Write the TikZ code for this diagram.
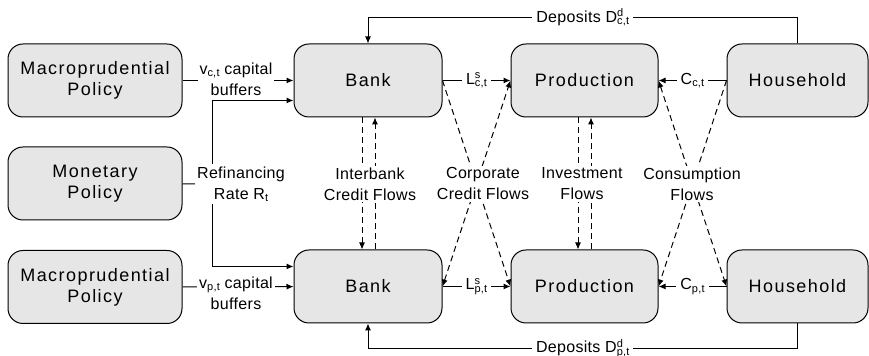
\documentclass[tikz,border=0pt]{standalone}
\usepackage{fontspec}
\setmainfont{Liberation Sans}
\newfontfamily\boxfont[LetterSpace=8]{Liberation Sans}
\newfontfamily\flowfont[LetterSpace=2]{Liberation Sans}
\usetikzlibrary{arrows.meta}
\definecolor{boxgray}{RGB}{230,230,230}
% small indices: superscript over subscript, and subscript alone
\newcommand{\flowidx}[2]{{\fontsize{5.5}{6}\selectfont\rlap{\raisebox{2.8pt}{#1}}\raisebox{-1.2pt}{#2}}}
\newcommand{\flowsub}[1]{{\fontsize{5.5}{6}\selectfont\raisebox{-1.2pt}{#1}}}

\begin{document}
\begin{tikzpicture}[x=0.5pt,y=-0.5pt,line width=0.5pt,
	agent/.style={draw,fill=boxgray,rounded corners=7.5pt,minimum height=36.5pt,
		align=center,inner sep=0pt,font=\boxfont\fontsize{9}{10.5}\selectfont},
	flowlabel/.style={fill=white,align=center,inner sep=1pt,
		font=\flowfont\fontsize{8}{10.5}\selectfont},
	arr/.style={-{Latex[length=3.5pt,width=3pt]}},
	arrboth/.style={{Latex[length=3.5pt,width=3pt]}-{Latex[length=3.5pt,width=3pt]}},
	flowline/.style={dash pattern=on 3pt off 2pt}]
	\useasboundingbox (0,0) rectangle (869,356);
	% policy
	\node[agent,minimum width=87pt] (macc) at (95,80.5) {Macroprudential\\Policy};
	\node[agent,minimum width=87pt] (mon) at (95,183.5) {Monetary\\Policy};
	\node[agent,minimum width=87pt] (macp) at (95,287) {Macroprudential\\Policy};
	% sectors
	\node[agent,minimum width=74pt] (bankc) at (368,80.5) {Bank};
	\node[agent,minimum width=74pt] (bankp) at (368,286.5) {Bank};
	\node[agent,minimum width=73.5pt] (prodc) at (584.5,80.5) {Production};
	\node[agent,minimum width=73.5pt] (prodp) at (584.5,286.5) {Production};
	\node[agent,minimum width=70.5pt] (housc) at (797.5,80.5) {Household};
	\node[agent,minimum width=70.5pt] (housp) at (797.5,286.5) {Household};

	% capital buffers
	\draw[arr] (macc) -- (bankc);
	\draw[arr] (macp) -- (bankp);
	\node[flowlabel] (vc) at (236,79) {v\flowsub{c,t} capital\\buffers};
	\node[flowlabel] (vp) at (236,293) {v\flowsub{p,t} capital\\buffers};

	% refinancing rate
	\coordinate (split) at (212,184);
	\draw (mon) -- (split);
	\draw[arr] (split) |- ([yshift=-10pt]bankc.west);
	\draw[arr] (split) |- ([yshift=10pt]bankp.west);
	\node[flowlabel] (refi) at (241,184) {Refinancing\\Rate R\flowsub{t}};

	% loans and consumption
	\draw[arr] (bankc) -- (prodc) node[flowlabel,inner sep=2pt,midway] (lc) {L\flowidx{s}{c,t}};
	\draw[arr] (bankp) -- (prodp) node[flowlabel,inner sep=2pt,midway] (lp) {L\flowidx{s}{p,t}};
	\draw[arr] (housc) -- (prodc) node[flowlabel,inner sep=2pt,midway] (cc) {C\flowsub{c,t}};
	\draw[arr] (housp) -- (prodp) node[flowlabel,inner sep=2pt,midway] (cp) {C\flowsub{p,t}};

	% deposits
	\draw[arr] (housc.north) -- ++(0,-26) -| node[flowlabel,inner sep=2pt,pos=0.25] (dc) {Deposits D\flowidx{d}{c,t}} (bankc.north);
	\draw[arr] (housp.south) -- ++(0,25) -| node[flowlabel,inner sep=2pt,pos=0.25] (dp) {Deposits D\flowidx{d}{p,t}} (bankp.south);

	% cross country flows
	\draw[arr,flowline] ([xshift=-3pt]bankc.south) -- ([xshift=-3pt]bankp.north);
	\draw[arr,flowline] ([xshift=3.5pt]bankp.north) -- ([xshift=3.5pt]bankc.south);
	\draw[arr,flowline] ([xshift=-3.25pt]prodc.south) -- ([xshift=-3.25pt]prodp.north);
	\draw[arr,flowline] ([xshift=3.25pt]prodp.north) -- ([xshift=3.25pt]prodc.south);
	\draw[arr,flowline] (bankc.east) -- (prodp.west);
	\draw[arrboth,flowline] (bankp.east) -- (prodc.west);
	\draw[arr,flowline] (housc.west) -- (prodp.east);
	\draw[arrboth,flowline] (prodc.east) -- (housp.west);
	\node[flowlabel] (ib) at (370,184) {Interbank\\Credit Flows};
	\node[flowlabel] (corp) at (483,184) {Corporate\\Credit Flows};
	\node[flowlabel] (inv) at (582,184) {Investment\\Flows};
	\node[flowlabel] (cons) at (692,184) {Consumption\\Flows};
\end{tikzpicture}
\end{document}
